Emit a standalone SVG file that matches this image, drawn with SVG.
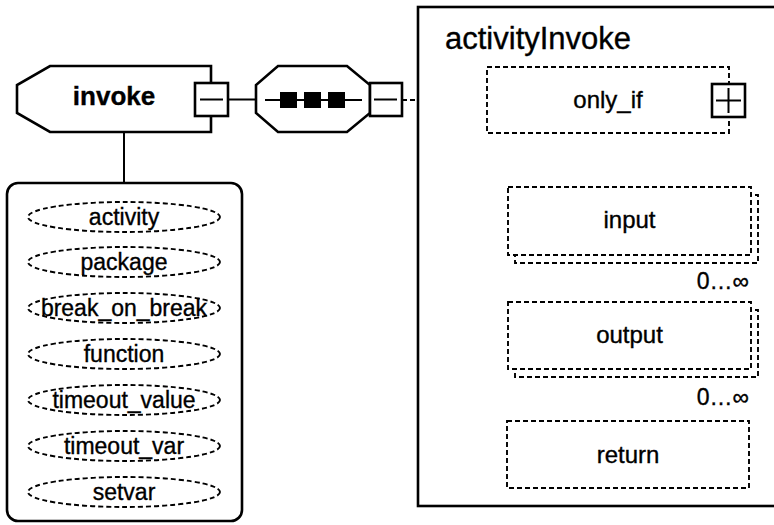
<svg xmlns="http://www.w3.org/2000/svg" width="774" height="525" viewBox="0 0 774 525">
<style>
text{font-family:"Liberation Sans",Arial,sans-serif;fill:#000;stroke:#000;stroke-width:0.35}
.solid{fill:#fff;stroke:#000;stroke-width:2.6}
.thin{fill:none;stroke:#000;stroke-width:2}
.dash{fill:#fff;stroke:#000;stroke-width:1.9;stroke-dasharray:5 3}
.dline{fill:none;stroke:#000;stroke-width:1.9;stroke-dasharray:5 3}
.lbl{font-size:24px;text-anchor:middle}
.att{font-size:23px;text-anchor:middle}
.occ{font-size:23px;text-anchor:end}
</style>
<rect width="774" height="525" fill="#fff"/>

<g id="connectors">
  <line x1="124" y1="132" x2="124" y2="183" class="thin"/>
  <line x1="228" y1="99.5" x2="256" y2="99.5" class="thin"/>
  <line x1="402" y1="100" x2="487" y2="100" class="dline"/>
  <line x1="442" y1="100" x2="442" y2="454" class="dline"/>
  <line x1="442" y1="221" x2="508" y2="221" class="dline"/>
  <line x1="442" y1="336" x2="508" y2="336" class="dline"/>
  <line x1="442" y1="454" x2="507" y2="454" class="dline"/>
</g>

<g id="activityInvoke">
  <rect x="418" y="7" width="370" height="499" class="solid"/>
  <text x="445" y="49" font-size="31px">activityInvoke</text>
</g>

<g id="invoke">
  <polygon points="211,66 50,66 17,85 17,113 50,132 211,132" class="solid"/>
  <text x="114" y="105" font-size="26px" font-weight="bold" text-anchor="middle">invoke</text>
  <rect x="195" y="83" width="33" height="33" class="solid"/>
  <line x1="200" y1="99.5" x2="223" y2="99.5" class="thin"/>
</g>

<g id="sequence">
  <polygon points="278,66 347,66 370,85 370,113 347,132 278,132 256,113 256,85" class="solid"/>
  <line x1="265" y1="100" x2="362" y2="100" class="thin"/>
  <rect x="280" y="92" width="17" height="16" fill="#000"/>
  <rect x="304" y="92" width="17" height="16" fill="#000"/>
  <rect x="328" y="92" width="17" height="16" fill="#000"/>
  <rect x="370" y="83" width="32" height="33" class="solid"/>
  <line x1="374" y1="99.5" x2="397" y2="99.5" class="thin"/>
</g>

<g id="attributes">
  <rect x="7" y="183" width="235" height="338" rx="11" class="solid"/>
  <g id="attr-activity"><ellipse cx="124" cy="217" rx="96" ry="15" class="dash"/><text x="124" y="225" class="att">activity</text></g>
  <g id="attr-package"><ellipse cx="124" cy="262" rx="96" ry="15" class="dash"/><text x="124" y="270" class="att">package</text></g>
  <g id="attr-break_on_break"><ellipse cx="124" cy="308" rx="96" ry="15" class="dash"/><text x="124" y="316" class="att">break_on_break</text></g>
  <g id="attr-function"><ellipse cx="124" cy="354" rx="96" ry="15" class="dash"/><text x="124" y="362" class="att">function</text></g>
  <g id="attr-timeout_value"><ellipse cx="124" cy="400" rx="96" ry="15" class="dash"/><text x="124" y="408" class="att">timeout_value</text></g>
  <g id="attr-timeout_var"><ellipse cx="124" cy="446" rx="96" ry="15" class="dash"/><text x="124" y="454" class="att">timeout_var</text></g>
  <g id="attr-setvar"><ellipse cx="124" cy="492" rx="96" ry="15" class="dash"/><text x="124" y="500" class="att">setvar</text></g>
</g>

<g id="only_if">
  <rect x="487" y="67" width="242" height="66" class="dash"/>
  <text x="608" y="108" class="lbl">only_if</text>
  <rect x="712" y="84" width="33" height="33" class="solid"/>
  <line x1="716" y1="100.5" x2="741" y2="100.5" class="thin"/>
  <line x1="728.5" y1="88" x2="728.5" y2="113" class="thin"/>
</g>

<g id="input">
  <rect x="515" y="195" width="243" height="68" class="dash"/>
  <rect x="508" y="187" width="243" height="68" class="dash"/>
  <text x="629.5" y="228" class="lbl">input</text>
  <text x="749" y="289" class="occ">0…∞</text>
</g>

<g id="output">
  <rect x="515" y="310" width="243" height="67" class="dash"/>
  <rect x="508" y="302" width="243" height="67" class="dash"/>
  <text x="629.5" y="343" class="lbl">output</text>
  <text x="749" y="405" class="occ">0…∞</text>
</g>

<g id="return">
  <rect x="507" y="421" width="242" height="67" class="dash"/>
  <text x="628" y="463" class="lbl">return</text>
</g>
</svg>
